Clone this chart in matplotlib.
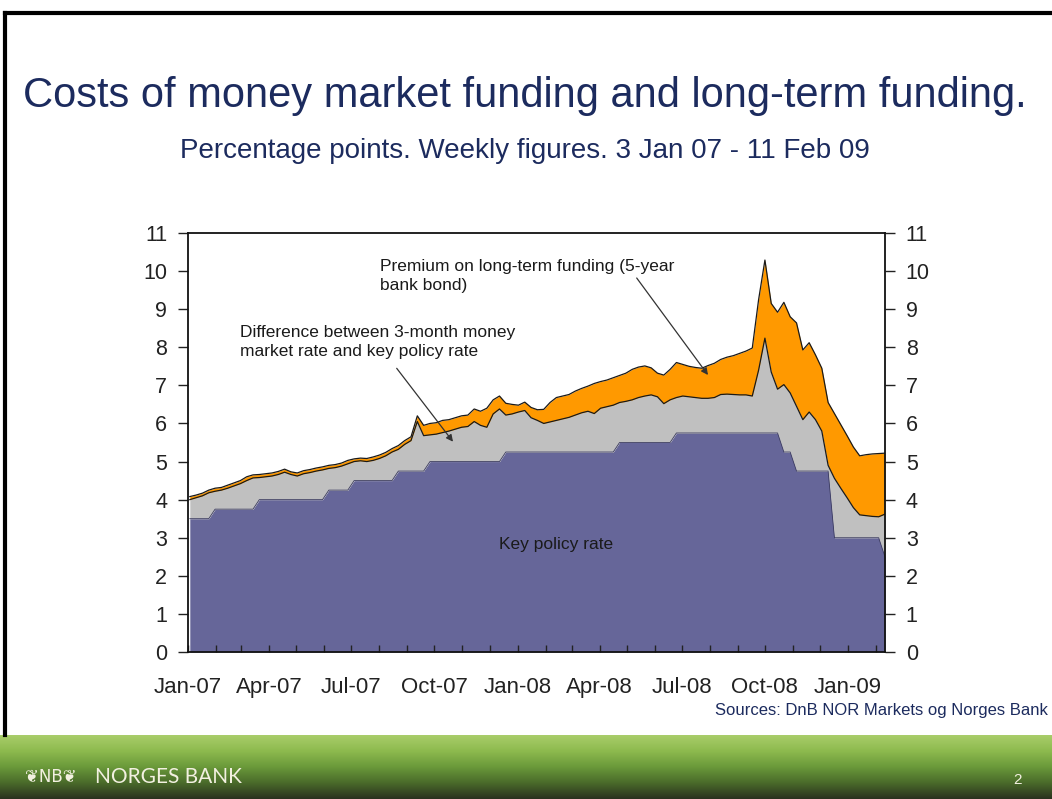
import numpy as np
import pandas as pd
import matplotlib
matplotlib.use("Agg")
import matplotlib.pyplot as plt
import matplotlib.dates as mdates
from matplotlib.colors import LinearSegmentedColormap
from matplotlib.lines import Line2D

plt.rcParams['font.family'] = ['Liberation Sans', 'DejaVu Sans']

# Weekly observations, Wednesdays from 3 Jan 2007 to 11 Feb 2009 (per cent)
first_week = "2007-01-03"

key_policy_rate = [
    3.50, 3.50, 3.50, 3.50, 3.75, 3.75, 3.75, 3.75, 3.75, 3.75,
    3.75, 4.00, 4.00, 4.00, 4.00, 4.00, 4.00, 4.00, 4.00, 4.00,
    4.00, 4.00, 4.25, 4.25, 4.25, 4.25, 4.50, 4.50, 4.50, 4.50,
    4.50, 4.50, 4.50, 4.75, 4.75, 4.75, 4.75, 4.75, 5.00, 5.00,
    5.00, 5.00, 5.00, 5.00, 5.00, 5.00, 5.00, 5.00, 5.00, 5.00,
    5.25, 5.25, 5.25, 5.25, 5.25, 5.25, 5.25, 5.25, 5.25, 5.25,
    5.25, 5.25, 5.25, 5.25, 5.25, 5.25, 5.25, 5.25, 5.50, 5.50,
    5.50, 5.50, 5.50, 5.50, 5.50, 5.50, 5.50, 5.75, 5.75, 5.75,
    5.75, 5.75, 5.75, 5.75, 5.75, 5.75, 5.75, 5.75, 5.75, 5.75,
    5.75, 5.75, 5.75, 5.75, 5.25, 5.25, 4.75, 4.75, 4.75, 4.75,
    4.75, 4.75, 3.00, 3.00, 3.00, 3.00, 3.00, 3.00, 3.00, 3.00,
    2.50,
]

# 3-month money market rate
money_market_3m = [
    4.00, 4.05, 4.10, 4.18, 4.22, 4.25, 4.30, 4.36, 4.42, 4.50,
    4.57, 4.58, 4.60, 4.62, 4.66, 4.72, 4.66, 4.62, 4.68, 4.71,
    4.75, 4.78, 4.82, 4.84, 4.88, 4.94, 5.00, 5.02, 5.00, 5.03,
    5.08, 5.15, 5.25, 5.32, 5.45, 5.55, 6.05, 5.68, 5.70, 5.72,
    5.76, 5.80, 5.85, 5.90, 5.92, 6.05, 5.95, 5.90, 6.25, 6.38,
    6.22, 6.25, 6.30, 6.34, 6.15, 6.08, 6.00, 6.04, 6.08, 6.12,
    6.16, 6.22, 6.28, 6.32, 6.26, 6.40, 6.44, 6.48, 6.55, 6.58,
    6.62, 6.68, 6.72, 6.75, 6.70, 6.52, 6.62, 6.68, 6.72, 6.70,
    6.68, 6.66, 6.66, 6.68, 6.76, 6.77, 6.76, 6.75, 6.75, 6.72,
    7.40, 8.24, 7.35, 6.90, 7.02, 6.80, 6.45, 6.10, 6.30, 6.10,
    5.80, 4.90, 4.56, 4.30, 4.05, 3.79, 3.60, 3.58, 3.56, 3.55,
    3.62,
]

# Cost of long-term funding (5-year bank bond)
long_term_funding = [
    4.08, 4.12, 4.17, 4.25, 4.30, 4.32, 4.38, 4.44, 4.50, 4.60,
    4.65, 4.66, 4.68, 4.70, 4.74, 4.80, 4.73, 4.70, 4.76, 4.79,
    4.83, 4.86, 4.90, 4.92, 4.96, 5.03, 5.07, 5.09, 5.08, 5.12,
    5.17, 5.24, 5.34, 5.42, 5.55, 5.65, 6.20, 5.95, 6.00, 6.02,
    6.08, 6.10, 6.15, 6.20, 6.22, 6.38, 6.32, 6.40, 6.62, 6.72,
    6.53, 6.50, 6.48, 6.56, 6.42, 6.36, 6.37, 6.55, 6.68, 6.72,
    6.76, 6.85, 6.92, 6.98, 7.05, 7.10, 7.14, 7.20, 7.26, 7.32,
    7.42, 7.48, 7.51, 7.46, 7.32, 7.27, 7.42, 7.60, 7.55, 7.50,
    7.47, 7.45, 7.52, 7.58, 7.68, 7.74, 7.78, 7.84, 7.90, 7.98,
    9.25, 10.29, 9.15, 8.92, 9.18, 8.80, 8.64, 7.93, 8.12, 7.80,
    7.45, 6.55, 6.26, 5.97, 5.68, 5.38, 5.15, 5.18, 5.20, 5.21,
    5.22,
]

y_ticks = list(range(0, 12))

title = "Costs of money market funding and long-term funding."
subtitle = "Percentage points. Weekly figures. 3 Jan 07 - 11 Feb 09"
source = "Sources: DnB NOR Markets og Norges Bank"
label_premium = "Premium on long-term funding (5-year\nbank bond)"
label_difference = "Difference between 3-month money\nmarket rate and key policy rate"
label_key = "Key policy rate"

NAVY = "#1c2b5e"
PURPLE = "#666699"
GREY = "#c0c0c0"
ORANGE = "#ff9900"

dates = pd.date_range(first_week, periods=len(key_policy_rate), freq="7D")
key = np.array(key_policy_rate)
mm = np.array(money_market_3m)
lt = np.array(long_term_funding)

W, H = 1052, 799
fig = plt.figure(figsize=(W / 100, H / 100), dpi=100)
fig.patch.set_facecolor("white")

# green footer band
band = fig.add_axes([0, 0, 1, 64 / H])
band_cmap = LinearSegmentedColormap.from_list(
    "band", ["#2a311e", "#4a6a2a", "#6a993a", "#8dba4e", "#a9cd6a"])
grad = np.linspace(0, 1, 256).reshape(-1, 1)
band.imshow(grad, aspect="auto", cmap=band_cmap, origin="lower",
            extent=[0, 1, 0, 1])
band.set_axis_off()
band.text(0.024, 0.34, "\u2766NB\u2766", color="#f2f0e0", fontsize=12,
          family=["DejaVu Sans"], va="center", ha="left")
band.text(0.090, 0.34, "NORGES BANK", color="#f2f0e0", fontsize=15,
          family=["Lato", "DejaVu Sans"], va="center", ha="left")
band.text(0.963, 0.30, "2", color="#f2f0e0", fontsize=11,
          va="center", ha="left")

# slide frame lines
fig.add_artist(Line2D([5 / W, 5 / W], [64 / H, 1 - 13 / H], color="black",
                      lw=3, transform=fig.transFigure))
fig.add_artist(Line2D([5 / W, 1], [1 - 13 / H, 1 - 13 / H], color="black",
                      lw=3, transform=fig.transFigure))

fig.text(525 / W, 1 - 96 / H, title, color=NAVY, fontsize=30,
         ha="center", va="center")
fig.text(525 / W, 1 - 151 / H, subtitle, color=NAVY, fontsize=20,
         ha="center", va="center")
fig.text(0.996, 1 - 710 / H, source, color=NAVY, fontsize=12,
         ha="right", va="center")

ax = fig.add_axes([188 / W, 1 - 652 / H, (885 - 188) / W, (652 - 233) / H])
ax.fill_between(dates, 0, key, color=PURPLE, lw=0)
ax.fill_between(dates, key, mm, color=GREY, lw=0)
ax.fill_between(dates, mm, lt, color=ORANGE, lw=0)
ax.plot(dates, lt, color="#1a1a1a", lw=0.9)
ax.plot(dates, mm, color="#1a1a1a", lw=0.9)
ax.plot(dates, key, color="#3c3c60", lw=0.6)

ax.set_xlim(pd.Timestamp("2007-01-01"), pd.Timestamp("2009-02-11"))
ax.set_ylim(0, 11)
ax.set_yticks(y_ticks)
ax.tick_params(axis="y", direction="out", length=7, width=1,
               labelsize=15.5, pad=8, left=True, right=True,
               labelleft=True, labelright=True, colors="#222222")
ax.xaxis.set_major_locator(mdates.MonthLocator(bymonth=[1, 4, 7, 10]))
ax.xaxis.set_major_formatter(mdates.DateFormatter("%b-%y"))
ax.xaxis.set_minor_locator(mdates.MonthLocator())
ax.tick_params(axis="x", which="both", direction="in", length=5, width=1,
               colors="#222222")
ax.tick_params(axis="x", which="major", labelsize=16, pad=18)
for sp in ax.spines.values():
    sp.set_linewidth(1.3)
    sp.set_color("#111111")

ax.text((380 - 188) / 697, (652 - 259) / 419, label_premium,
        transform=ax.transAxes, fontsize=12.5, color="#1a1a1a",
        ha="left", va="top", linespacing=1.35)
ax.text((240 - 188) / 697, (652 - 325) / 419, label_difference,
        transform=ax.transAxes, fontsize=12.5, color="#1a1a1a",
        ha="left", va="top", linespacing=1.35)
ax.text((556 - 188) / 697, (652 - 545) / 419, label_key,
        transform=ax.transAxes, fontsize=12.5, color="#1a1a1a",
        ha="center", va="center")

arrow = dict(arrowstyle="-|>", color="#333333", lw=0.9,
             mutation_scale=10, shrinkA=0, shrinkB=0)
ax.annotate("", xy=((453 - 188) / 697, (652 - 441.7) / 419),
            xytext=((396.7 - 188) / 697, (652 - 368.3) / 419),
            xycoords="axes fraction", textcoords="axes fraction",
            arrowprops=arrow)
ax.annotate("", xy=((708 - 188) / 697, (652 - 375) / 419),
            xytext=((636.7 - 188) / 697, (652 - 278) / 419),
            xycoords="axes fraction", textcoords="axes fraction",
            arrowprops=arrow)

fig.savefig("out.png", dpi=100)
